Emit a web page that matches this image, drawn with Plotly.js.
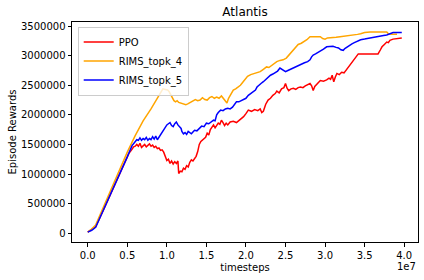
<!DOCTYPE html>
<html>
<head>
<meta charset="utf-8">
<script src="https://cdn.plot.ly/plotly-3.0.1.min.js"></script>
<style>html,body{margin:0;padding:0;background:#fff;}#chart{width:424px;height:280px;}</style>
</head>
<body>
<div id="chart"></div>
<script>
// x values are timesteps (axis shows them in units of 1e7)
const ppoX = [0,0.05e7,0.1e7,0.2e7,0.3e7,0.4e7,0.5e7,0.52e7,0.55e7,0.58e7,0.60e7,0.62e7,0.64e7,0.66e7,0.68e7,0.70e7,0.72e7,0.74e7,0.76e7,0.78e7,0.80e7,0.82e7,0.84e7,0.86e7,0.88e7,0.90e7,0.92e7,0.94e7,0.96e7,0.98e7,1.00e7,1.02e7,1.04e7,1.06e7,1.08e7,1.10e7,1.12e7,1.14e7,1.15e7,1.17e7,1.19e7,1.21e7,1.23e7,1.25e7,1.27e7,1.29e7,1.31e7,1.33e7,1.35e7,1.37e7,1.39e7,1.41e7,1.43e7,1.46e7,1.49e7,1.51e7,1.53e7,1.55e7,1.57e7,1.59e7,1.61e7,1.63e7,1.65e7,1.67e7,1.69e7,1.71e7,1.73e7,1.75e7,1.77e7,1.80e7,1.84e7,1.88e7,1.92e7,1.95e7,1.97e7,2.00e7,2.03e7,2.07e7,2.11e7,2.15e7,2.18e7,2.20e7,2.22e7,2.25e7,2.28e7,2.31e7,2.34e7,2.37e7,2.39e7,2.42e7,2.45e7,2.48e7,2.50e7,2.52e7,2.54e7,2.57e7,2.60e7,2.63e7,2.66e7,2.69e7,2.72e7,2.75e7,2.78e7,2.81e7,2.83e7,2.85e7,2.87e7,2.90e7,2.94e7,2.98e7,3.02e7,3.05e7,3.07e7,3.09e7,3.11e7,3.13e7,3.15e7,3.18e7,3.21e7,3.24e7,3.27e7,3.30e7,3.33e7,3.36e7,3.39e7,3.42e7,3.47e7,3.53e7,3.60e7,3.67e7,3.70e7,3.72e7,3.75e7,3.78e7,3.80e7,3.82e7,3.86e7,3.91e7,3.97e7];
const ppoY = [0.02e6,0.06e6,0.11e6,0.40e6,0.70e6,1.00e6,1.30e6,1.35e6,1.40e6,1.46e6,1.47e6,1.50e6,1.47e6,1.52e6,1.45e6,1.47e6,1.50e6,1.46e6,1.49e6,1.51e6,1.47e6,1.49e6,1.45e6,1.47e6,1.43e6,1.44e6,1.40e6,1.41e6,1.37e6,1.30e6,1.23e6,1.25e6,1.18e6,1.22e6,1.17e6,1.21e6,1.18e6,1.22e6,1.01e6,1.05e6,1.04e6,1.10e6,1.08e6,1.14e6,1.12e6,1.20e6,1.24e6,1.22e6,1.27e6,1.30e6,1.38e6,1.50e6,1.55e6,1.58e6,1.62e6,1.69e6,1.66e6,1.75e6,1.79e6,1.83e6,1.78e6,1.82e6,1.86e6,1.84e6,1.91e6,1.87e6,1.82e6,1.86e6,1.83e6,1.88e6,1.89e6,1.87e6,1.91e6,1.95e6,1.97e6,2.02e6,2.08e6,2.06e6,2.09e6,2.07e6,2.10e6,2.04e6,2.06e6,2.18e6,2.25e6,2.28e6,2.33e6,2.36e6,2.40e6,2.37e6,2.44e6,2.46e6,2.53e6,2.45e6,2.41e6,2.44e6,2.45e6,2.43e6,2.46e6,2.47e6,2.46e6,2.49e6,2.51e6,2.53e6,2.49e6,2.41e6,2.48e6,2.53e6,2.58e6,2.57e6,2.59e6,2.62e6,2.60e6,2.67e6,2.56e6,2.64e6,2.70e6,2.68e6,2.72e6,2.71e6,2.76e6,2.81e6,2.86e6,2.92e6,2.97e6,3.03e6,3.03e6,3.03e6,3.03e6,3.03e6,3.10e6,3.15e6,3.19e6,3.23e6,3.22e6,3.26e6,3.28e6,3.29e6,3.30e6];

const topk4X = [0,0.05e7,0.1e7,0.2e7,0.3e7,0.4e7,0.5e7,0.6e7,0.7e7,0.8e7,0.88e7,0.92e7,0.95e7,0.98e7,1.01e7,1.03e7,1.05e7,1.07e7,1.09e7,1.11e7,1.13e7,1.15e7,1.18e7,1.21e7,1.24e7,1.27e7,1.30e7,1.33e7,1.36e7,1.39e7,1.42e7,1.45e7,1.48e7,1.51e7,1.54e7,1.57e7,1.60e7,1.63e7,1.66e7,1.69e7,1.72e7,1.74e7,1.76e7,1.78e7,1.81e7,1.84e7,1.87e7,1.90e7,1.93e7,1.96e7,1.99e7,2.02e7,2.06e7,2.10e7,2.14e7,2.18e7,2.22e7,2.26e7,2.29e7,2.33e7,2.36e7,2.39e7,2.43e7,2.47e7,2.51e7,2.54e7,2.57e7,2.60e7,2.63e7,2.66e7,2.70e7,2.73e7,2.77e7,2.81e7,2.85e7,2.90e7,2.94e7,2.97e7,3.00e7,3.03e7,3.08e7,3.14e7,3.19e7,3.25e7,3.30e7,3.36e7,3.41e7,3.45e7,3.50e7,3.57e7,3.65e7,3.72e7,3.78e7,3.80e7,3.84e7,3.91e7];
const topk4Y = [0.02e6,0.07e6,0.14e6,0.45e6,0.76e6,1.07e6,1.37e6,1.65e6,1.90e6,2.10e6,2.28e6,2.38e6,2.44e6,2.43e6,2.42e6,2.39e6,2.34e6,2.30e6,2.24e6,2.22e6,2.24e6,2.21e6,2.20e6,2.19e6,2.17e6,2.19e6,2.21e6,2.24e6,2.26e6,2.24e6,2.25e6,2.29e6,2.26e6,2.25e6,2.29e6,2.31e6,2.28e6,2.30e6,2.28e6,2.32e6,2.26e6,2.22e6,2.20e6,2.28e6,2.34e6,2.42e6,2.44e6,2.47e6,2.50e6,2.55e6,2.60e6,2.65e6,2.68e6,2.70e6,2.71e6,2.73e6,2.77e6,2.81e6,2.80e6,2.84e6,2.87e6,2.90e6,2.92e6,2.93e6,2.96e6,3.01e6,3.06e6,3.09e6,3.16e6,3.19e6,3.21e6,3.23e6,3.27e6,3.32e6,3.32e6,3.31e6,3.32e6,3.29e6,3.28e6,3.30e6,3.30e6,3.31e6,3.32e6,3.33e6,3.33e6,3.34e6,3.36e6,3.37e6,3.39e6,3.40e6,3.40e6,3.40e6,3.40e6,3.37e6,3.36e6,3.36e6];

const topk5X = [0,0.05e7,0.1e7,0.2e7,0.3e7,0.4e7,0.5e7,0.56e7,0.60e7,0.62e7,0.64e7,0.66e7,0.68e7,0.70e7,0.72e7,0.74e7,0.76e7,0.78e7,0.80e7,0.82e7,0.84e7,0.86e7,0.88e7,0.90e7,0.92e7,0.94e7,0.96e7,0.98e7,1.00e7,1.02e7,1.04e7,1.06e7,1.08e7,1.10e7,1.12e7,1.14e7,1.16e7,1.18e7,1.19e7,1.21e7,1.23e7,1.25e7,1.27e7,1.29e7,1.31e7,1.33e7,1.35e7,1.38e7,1.41e7,1.44e7,1.47e7,1.50e7,1.53e7,1.56e7,1.59e7,1.61e7,1.63e7,1.65e7,1.68e7,1.71e7,1.74e7,1.77e7,1.80e7,1.83e7,1.86e7,1.88e7,1.91e7,1.94e7,1.97e7,2.00e7,2.03e7,2.06e7,2.09e7,2.12e7,2.14e7,2.16e7,2.19e7,2.22e7,2.25e7,2.28e7,2.31e7,2.34e7,2.37e7,2.40e7,2.43e7,2.46e7,2.50e7,2.53e7,2.56e7,2.59e7,2.62e7,2.66e7,2.70e7,2.74e7,2.78e7,2.81e7,2.83e7,2.85e7,2.88e7,2.91e7,2.94e7,2.98e7,3.02e7,3.06e7,3.10e7,3.14e7,3.17e7,3.20e7,3.23e7,3.25e7,3.28e7,3.31e7,3.34e7,3.37e7,3.41e7,3.45e7,3.50e7,3.55e7,3.60e7,3.65e7,3.70e7,3.74e7,3.78e7,3.82e7,3.86e7,3.91e7,3.97e7];
const topk5Y = [0.02e6,0.05e6,0.10e6,0.39e6,0.69e6,0.99e6,1.29e6,1.48e6,1.56e6,1.58e6,1.57e6,1.61e6,1.57e6,1.60e6,1.58e6,1.62e6,1.57e6,1.60e6,1.58e6,1.63e6,1.59e6,1.64e6,1.58e6,1.62e6,1.67e6,1.71e6,1.75e6,1.80e6,1.83e6,1.85e6,1.87e6,1.82e6,1.80e6,1.85e6,1.88e6,1.83e6,1.80e6,1.77e6,1.72e6,1.68e6,1.70e6,1.67e6,1.72e6,1.70e6,1.68e6,1.71e6,1.74e6,1.73e6,1.78e6,1.81e6,1.80e6,1.86e6,1.85e6,1.88e6,1.91e6,1.90e6,2.00e6,2.04e6,2.08e6,2.07e6,2.10e6,2.11e6,2.10e6,2.13e6,2.19e6,2.22e6,2.22e6,2.24e6,2.25e6,2.28e6,2.33e6,2.36e6,2.39e6,2.42e6,2.47e6,2.50e6,2.53e6,2.56e6,2.60e6,2.64e6,2.67e6,2.69e6,2.72e6,2.74e6,2.79e6,2.76e6,2.73e6,2.75e6,2.77e6,2.78e6,2.81e6,2.84e6,2.86e6,2.88e6,2.90e6,2.93e6,2.98e6,3.01e6,3.03e6,3.05e6,3.07e6,3.11e6,3.15e6,3.16e6,3.16e6,3.14e6,3.13e6,3.10e6,3.09e6,3.12e6,3.15e6,3.18e6,3.20e6,3.22e6,3.24e6,3.27e6,3.28e6,3.29e6,3.30e6,3.31e6,3.32e6,3.34e6,3.35e6,3.37e6,3.39e6,3.39e6,3.39e6];

const seriesNames = ['PPO', 'RIMS_topk_4', 'RIMS_topk_5'];
const xTickVals = [0, 0.5e7, 1.0e7, 1.5e7, 2.0e7, 2.5e7, 3.0e7, 3.5e7, 4.0e7];
const xTickText = ['0.0', '0.5', '1.0', '1.5', '2.0', '2.5', '3.0', '3.5', '4.0'];
const yTickVals = [0, 500000, 1000000, 1500000, 2000000, 2500000, 3000000, 3500000];

const FONT = 'DejaVu Sans, sans-serif';
const colors = ['#ff0000', '#ffa500', '#0000ff'];
const xs = [ppoX, topk4X, topk5X];
const ys = [ppoY, topk4Y, topk5Y];

const traces = seriesNames.map((n, i) => ({
  type: 'scatter', mode: 'lines', name: n,
  x: xs[i], y: ys[i],
  line: {color: colors[i], width: 1.5}
}));

const axisCommon = {
  showline: true, mirror: true, linecolor: '#000', linewidth: 1,
  ticks: 'outside', ticklen: 3.5, tickwidth: 1, tickcolor: '#000',
  showgrid: false, zeroline: false,
  tickfont: {family: FONT, size: 10, color: '#000'}
};

const layout = {
  width: 424, height: 280,
  margin: {l: 72, r: 6, t: 22, b: 38},
  paper_bgcolor: '#fff', plot_bgcolor: '#fff',
  font: {family: FONT, size: 10, color: '#000'},
  title: {text: 'Atlantis', font: {family: FONT, size: 12, color: '#000'},
          x: 0.5, xref: 'paper', xanchor: 'center', y: 1 - 12/280, yref: 'container', yanchor: 'middle'},
  xaxis: Object.assign({}, axisCommon, {
    range: [-0.199e7, 4.175e7],
    tickmode: 'array', tickvals: xTickVals, ticktext: xTickText,
    title: {text: 'timesteps', font: {family: FONT, size: 10, color: '#000'}, standoff: 4}
  }),
  yaxis: Object.assign({}, axisCommon, {
    range: [-148000, 3569000],
    tickmode: 'array', tickvals: yTickVals, tickformat: 'd',
    title: {text: 'Episode Rewards', font: {family: FONT, size: 10, color: '#000'}, standoff: 2}
  }),
  showlegend: true,
  legend: {
    x: 0.0165, y: 0.979, xanchor: 'left', yanchor: 'top',
    bgcolor: 'rgba(255,255,255,0.8)', bordercolor: '#cccccc', borderwidth: 1,
    font: {family: FONT, size: 10, color: '#000'},
    tracegroupgap: 0
  },
  annotations: [{
    text: '1e7', xref: 'paper', yref: 'paper', x: 1, y: -0.1136,
    xanchor: 'right', yanchor: 'middle', showarrow: false,
    font: {family: FONT, size: 10, color: '#000'}
  }]
};

Plotly.newPlot('chart', traces, layout, {displayModeBar: false, staticPlot: true});
</script>
</body>
</html>
